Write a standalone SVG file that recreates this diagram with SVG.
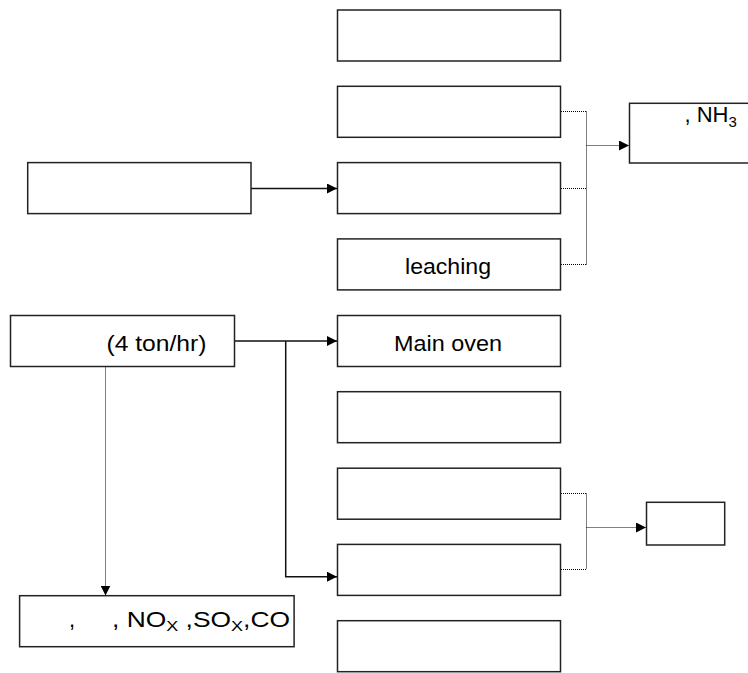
<svg xmlns="http://www.w3.org/2000/svg" width="748" height="673" viewBox="0 0 748 673">
  <style>
    .box { fill: #ffffff; stroke: #222222; stroke-width: 1.5; }
    .solid { fill: none; stroke: #111111; stroke-width: 1.5; }
    .dot { fill: none; stroke: #000000; stroke-width: 1; stroke-dasharray: 1 1; }
    .lbl { font-family: "Liberation Sans", Arial, sans-serif; font-size: 22px; fill: #000000; }
    .sub { font-size: 15px; }
  </style>
  <defs>
    <marker id="arrow" viewBox="0 0 10 10" refX="10" refY="5" markerWidth="10" markerHeight="10" markerUnits="userSpaceOnUse" orient="auto">
      <path d="M0,0 L10,5 L0,10 Z" fill="#000000"/>
    </marker>
  </defs>

  <rect width="748" height="673" fill="#ffffff"/>

  <!-- connectors -->
  <g id="connectors">
    <!-- solid feeds -->
    <path class="solid" d="M251,188.5 H337" marker-end="url(#arrow)"/>
    <path class="solid" d="M234.5,341 H337" marker-end="url(#arrow)"/>
    <path class="solid" d="M285.7,341 V576.7 H337" marker-end="url(#arrow)"/>
    <!-- upper dotted collector -->
    <path class="dot" d="M561,111.5 H586.5 M561,188.5 H586.5 M561,264.5 H586.5 M586.5,111.5 V264.5"/>
    <path class="dot" d="M586.5,145.5 H629" marker-end="url(#arrow)"/>
    <!-- lower dotted collector -->
    <path class="dot" d="M561,493.5 H586.5 M561,569.5 H586.5 M586.5,493.5 V569.5"/>
    <path class="dot" d="M586.5,527.5 H646" marker-end="url(#arrow)"/>
    <!-- emissions -->
    <path class="dot" d="M105.5,366.5 V595.5" marker-end="url(#arrow)"/>
  </g>

  <!-- right column -->
  <g id="n1"><rect class="box" x="337.5" y="10" width="223" height="51"/></g>
  <g id="n2"><rect class="box" x="337.5" y="86.3" width="223" height="51"/></g>
  <g id="n3"><rect class="box" x="337.5" y="162.6" width="223" height="51"/></g>
  <g id="n4"><rect class="box" x="337.5" y="238.9" width="223" height="51"/>
    <text class="lbl" x="405" y="273.5" textLength="86" lengthAdjust="spacingAndGlyphs">leaching</text></g>
  <g id="n5"><rect class="box" x="337.5" y="315.5" width="223" height="51"/>
    <text class="lbl" x="394" y="350.5" textLength="108" lengthAdjust="spacingAndGlyphs">Main oven</text></g>
  <g id="n6"><rect class="box" x="337.5" y="391.7" width="223" height="51"/></g>
  <g id="n7"><rect class="box" x="337.5" y="468.2" width="223" height="51"/></g>
  <g id="n8"><rect class="box" x="337.5" y="544.4" width="223" height="51"/></g>
  <g id="n9"><rect class="box" x="337.5" y="620.7" width="223" height="51"/></g>

  <!-- left column -->
  <g id="src1"><rect class="box" x="27.7" y="162.6" width="223.3" height="51"/></g>
  <g id="src2"><rect class="box" x="10.5" y="315.5" width="224" height="51"/>
    <text class="lbl" x="106.5" y="350.5" textLength="100" lengthAdjust="spacingAndGlyphs">(4 ton/hr)</text></g>
  <g id="emis"><rect class="box" x="19.6" y="595.7" width="274.5" height="51"/>
    <text class="lbl" x="69" y="627">,</text>
    <text class="lbl" x="112" y="627" textLength="178" lengthAdjust="spacingAndGlyphs">, NO<tspan class="sub" dy="4">X</tspan><tspan dy="-4"> ,SO</tspan><tspan class="sub" dy="4">X</tspan><tspan dy="-4">,CO</tspan></text>
  </g>

  <!-- outputs -->
  <g id="out1"><rect class="box" x="629.5" y="103.3" width="130" height="59.7"/>
    <text class="lbl" x="684.5" y="122">, NH<tspan class="sub" dy="5">3</tspan></text></g>
  <g id="out2"><rect class="box" x="646.5" y="502.3" width="78.2" height="42.7"/></g>
</svg>
